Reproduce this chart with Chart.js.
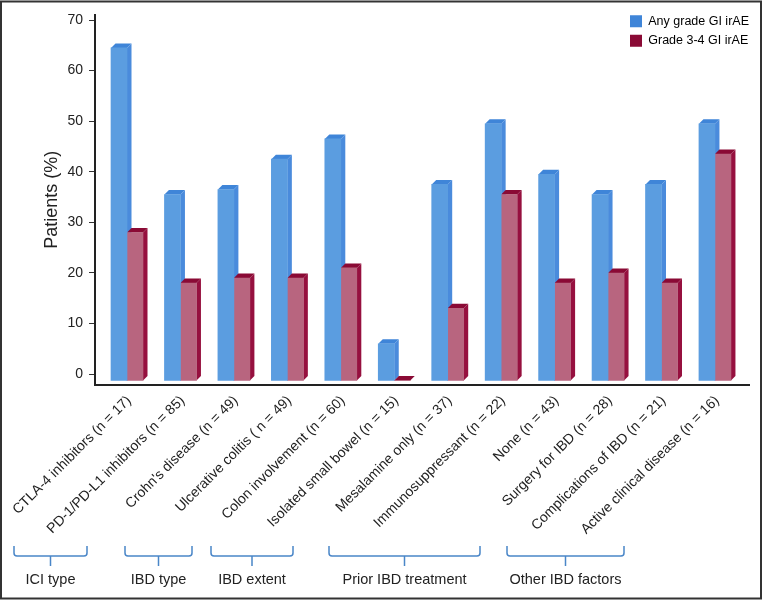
<!DOCTYPE html>
<html>
<head>
<meta charset="utf-8">
<style>
  html, body { margin: 0; padding: 0; background: #fff; }
  #wrap { width: 764px; height: 600px; }
</style>
</head>
<body>
<div id="wrap"><canvas id="barChart" width="764" height="600"></canvas></div>
<script src="https://cdn.jsdelivr.net/npm/chart.js@4"></script>
<script>
const categories = [
  'CTLA-4 inhibitors (n = 17)',
  'PD-1/PD-L1 inhibitors (n = 85)',
  "Crohn's disease (n = 49)",
  'Ulcerative colitis ( n = 49)',
  'Colon involvement (n = 60)',
  'Isolated small bowel (n = 15)',
  'Mesalamine only (n = 37)',
  'Immunosuppressant (n = 22)',
  'None (n = 43)',
  'Surgery for IBD (n = 28)',
  'Complications of IBD (n = 21)',
  'Active clinical disease (n = 16)'
];
const anyGrade = [64.5, 35.5, 36.5, 42.5, 46.5, 6, 37.5, 49.5, 39.5, 35.5, 37.5, 49.5];
// the empty bar sits flat on the floor of the 3D box, below the 0 tick
const grade34 = [28, 18, 19, 19, 21, -1.25, 13, 35.5, 18, 20, 18, 43.5];
const yTicks = [0, 10, 20, 30, 40, 50, 60, 70];
const groupNames = ['ICI type', 'IBD type', 'IBD extent', 'Prior IBD treatment', 'Other IBD factors'];
const groupSpans = [[14, 87], [125, 192], [211, 293], [329, 480], [507, 624]];

const FONT = '"Liberation Sans", Arial, sans-serif';
const DEPTH_X = 4.5;
const DEPTH_Y = 4.5;
const FLOOR = -1.25;
const PITCH = 53.45;
const AXIS_LEFT = 95;
const AXIS_RIGHT = 749;
const FIRST_CENTER = 127;

const toPoints = (vals) => vals.map((v, i) => ({ x: i, y: v }));

// side and top faces of the fake 3D bars, drawn first so the fronts cover them
const depthBars = {
  id: 'depthBars',
  beforeDatasetsDraw(chart) {
    const ctx = chart.ctx;
    ctx.save();
    chart.getSortedVisibleDatasetMetas().forEach((meta) => {
      const ds = chart.data.datasets[meta.index];
      meta.data.forEach((bar) => {
        const p = bar.getProps(['x', 'y', 'base', 'width'], true);
        const l = p.x - p.width / 2;
        const r = p.x + p.width / 2;
        ctx.fillStyle = ds.sideColor;
        ctx.beginPath();
        ctx.moveTo(r, p.y);
        ctx.lineTo(r + DEPTH_X, p.y - DEPTH_Y);
        ctx.lineTo(r + DEPTH_X, p.base - DEPTH_Y);
        ctx.lineTo(r, p.base);
        ctx.closePath();
        ctx.fill();
        ctx.fillStyle = ds.topColor;
        ctx.beginPath();
        ctx.moveTo(l, p.y);
        ctx.lineTo(l + DEPTH_X, p.y - DEPTH_Y);
        ctx.lineTo(r + DEPTH_X, p.y - DEPTH_Y);
        ctx.lineTo(r, p.y);
        ctx.closePath();
        ctx.fill();
      });
    });
    ctx.restore();
  }
};

// brackets and group names under the axis, and the outer frame
const extras = {
  id: 'extras',
  afterLayout(chart) {
    chart.legend.left = 623;
    chart.legend.top = 8;
  },
  afterDraw(chart) {
    const ctx = chart.ctx;
    ctx.save();
    ctx.strokeStyle = '#4a86c8';
    ctx.lineWidth = 1.5;
    ctx.fillStyle = '#222';
    ctx.font = '14.5px ' + FONT;
    ctx.textAlign = 'center';
    ctx.textBaseline = 'middle';
    groupSpans.forEach((s, i) => {
      const mid = (s[0] + s[1]) / 2;
      ctx.beginPath();
      ctx.moveTo(s[0], 546);
      ctx.lineTo(s[0], 553);
      ctx.quadraticCurveTo(s[0], 556, s[0] + 3, 556);
      ctx.lineTo(s[1] - 3, 556);
      ctx.quadraticCurveTo(s[1], 556, s[1], 553);
      ctx.lineTo(s[1], 546);
      ctx.moveTo(mid, 556);
      ctx.lineTo(mid, 566);
      ctx.stroke();
      ctx.fillText(groupNames[i], mid, 580);
    });
    ctx.strokeStyle = '#333';
    ctx.lineWidth = 2;
    ctx.strokeRect(1, 1.5, 760, 597);
    ctx.restore();
  }
};

const data = {
  datasets: [{
    label: 'Any grade GI irAE',
    data: toPoints(anyGrade),
    base: FLOOR,
    backgroundColor: '#5b9de0',
    sideColor: '#4a8bdc',
    topColor: '#3f85d8',
    legendColor: '#3f85d8',
    barThickness: 16
  }, {
    label: 'Grade 3-4 GI irAE',
    data: toPoints(grade34),
    base: FLOOR,
    backgroundColor: '#b8657f',
    sideColor: '#96103f',
    topColor: '#8a0a35',
    legendColor: '#8a0a35',
    barThickness: 16
  }]
};

const config = {
  type: 'bar',
  data: data,
  plugins: [depthBars, extras],
  options: {
    responsive: false,
    animation: false,
    layout: { padding: { top: 15, right: 764 - AXIS_RIGHT } },
    plugins: {
      tooltip: { enabled: false },
      legend: {
        position: 'chartArea',
        align: 'start',
        labels: {
          boxWidth: 12,
          boxHeight: 12,
          padding: 7,
          color: '#222',
          font: { family: FONT, size: 12.5 },
          generateLabels: (chart) => chart.data.datasets.map((d, i) => ({
            text: d.label,
            fillStyle: d.legendColor,
            strokeStyle: d.legendColor,
            lineWidth: 0,
            datasetIndex: i
          }))
        }
      }
    },
    scales: {
      x: {
        type: 'linear',
        offset: false,
        min: (AXIS_LEFT - FIRST_CENTER) / PITCH,
        max: (AXIS_RIGHT - FIRST_CENTER) / PITCH,
        afterBuildTicks: (scale) => { scale.ticks = categories.map((c, i) => ({ value: i })); },
        afterFit: (scale) => { scale.height = 600 - 384.5; },
        grid: { display: false },
        border: { display: true, color: '#222', width: 2 },
        ticks: {
          autoSkip: false,
          minRotation: 45,
          maxRotation: 45,
          padding: 0,
          labelOffset: 2,
          color: '#222',
          font: { family: FONT, size: 14 },
          callback: (v) => categories[v]
        }
      },
      y: {
        min: -2.05,
        max: 70 + 1,
        afterBuildTicks: (scale) => { scale.ticks = yTicks.map((v) => ({ value: v })); },
        afterFit: (scale) => { scale.width = AXIS_LEFT; },
        grid: { drawOnChartArea: false, tickLength: 6, tickColor: '#333', tickWidth: 1 },
        border: { color: '#222', width: 2 },
        title: {
          display: true,
          text: 'Patients (%)',
          color: '#222',
          font: { family: FONT, size: 18 },
          padding: { top: 41, bottom: 0 }
        },
        ticks: {
          padding: 6,
          color: '#222',
          font: { family: FONT, size: 14 }
        }
      }
    }
  }
};

var myChart = new Chart(document.getElementById('barChart'), config);
</script>
</body>
</html>
